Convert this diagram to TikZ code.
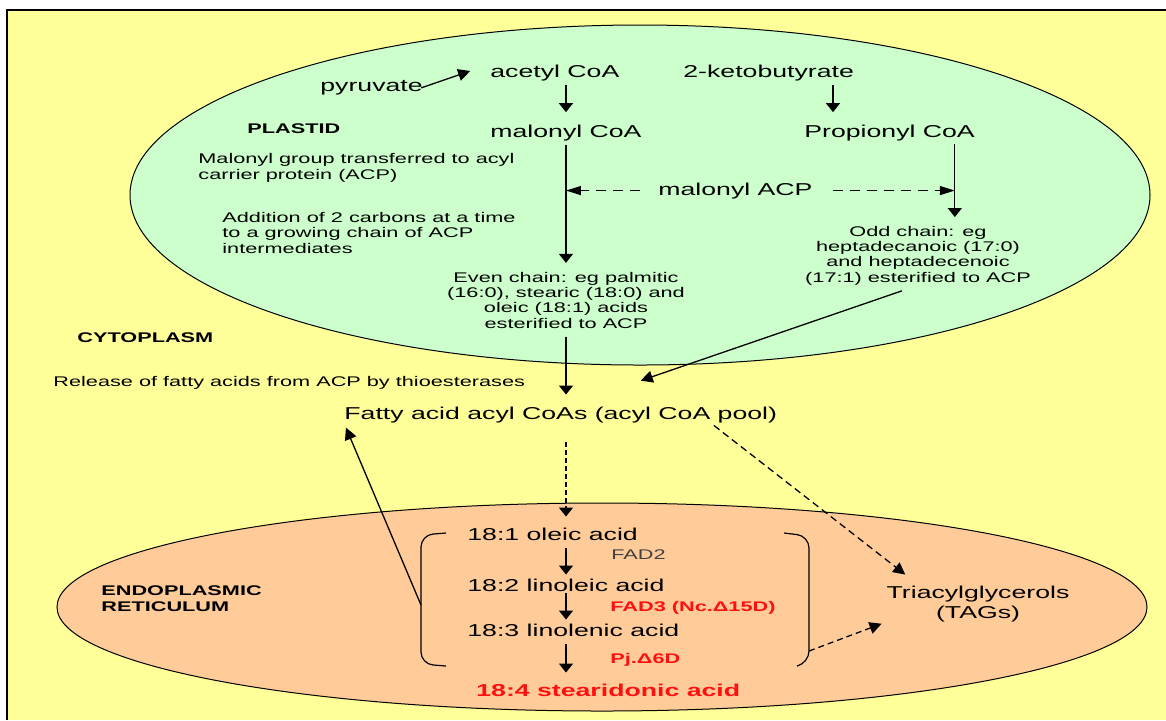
\documentclass[tikz,border=0pt]{standalone}
\usepackage{fontspec}
\setmainfont{Liberation Sans}[FakeStretch=1.55]
\usetikzlibrary{arrows.meta}
\definecolor{cyto}{HTML}{FFFF99}
\definecolor{plastid}{HTML}{CCFFCC}
\definecolor{er}{HTML}{FFCC99}
\definecolor{hot}{HTML}{FF1010}

\begin{document}
\begin{tikzpicture}[x=0.5pt, y=-0.5pt, inner sep=0pt,
  big/.style = {font=\fontsize{8.6}{10}\selectfont},
  note/.style = {font=\fontsize{7}{7.6}\selectfont},
  title/.style = {font=\fontsize{7}{7.6}\selectfont\bfseries},
  hit/.style = {font=\fontsize{8.6}{10}\selectfont\bfseries, text=hot},
  enz/.style = {font=\fontsize{7}{7.6}\selectfont\bfseries, text=hot},
  arr/.style = {-{Triangle[length=4.5pt, width=7pt]}, line width=0.65pt},
  harr/.style = {-{Triangle[length=7.5pt, width=4.5pt]}, line width=0.65pt, dash pattern=on 5pt off 3.5pt},
  darr/.style = {-{Triangle[length=6pt, width=6pt]}, line width=0.65pt}]
\useasboundingbox (0,0) rectangle (1166,720);
\fill[cyto] (7,10) rectangle (1166,720);
\draw[line width=1.2pt] (7,720) -- (7,10) -- (1166,10);
\draw[line width=0.5pt, fill=plastid] (640,195) ellipse [x radius=255pt, y radius=85pt];
\draw[line width=0.5pt, fill=er] (602,607) ellipse [x radius=272.5pt, y radius=52pt];

\node[big, anchor=base west] (pyr) at (320,91) {pyruvate};
\node[big, anchor=base west] (acoa) at (490,77) {acetyl CoA};
\node[big, anchor=base west] (keto) at (683,77) {2-ketobutyrate};
\node[big, anchor=base west] (mcoa) at (490,137) {malonyl CoA};
\node[big, anchor=base west] (pcoa) at (804,137) {Propionyl CoA};
\node[big, anchor=base west] (macp) at (658,195) {malonyl ACP};
\node[title, anchor=base west] (plast) at (247,133) {PLASTID};
\node[note, anchor=base west, align=left] (mgrp) at (198,179) {Malonyl group transferred to acyl\\carrier protein (ACP)};
\node[note, anchor=base west, align=left] (add) at (222,253) {Addition of 2 carbons at a time\\to a growing chain of ACP\\intermediates};
\node[note, anchor=base, align=center] (even) at (566,328) {Even chain: eg palmitic\\(16:0), stearic (18:0) and\\oleic (18:1) acids\\esterified to ACP};
\node[note, anchor=base, align=center] (odd) at (918,282) {Odd chain: eg\\heptadecanoic (17:0)\\and heptadecenoic\\(17:1) esterified to ACP};
\node[title, anchor=base west] (cyt) at (77,342) {CYTOPLASM};
\node[note, anchor=base west] (rel) at (53,386) {Release of fatty acids from ACP by thioesterases};
\node[big, anchor=base west] (fa) at (344,419) {Fatty acid acyl CoAs (acyl CoA pool)};
\node[title, anchor=base west, align=left] (endo) at (101,611) {ENDOPLASMIC\\RETICULUM};
\node[big, anchor=base west] (o1) at (467,540) {18:1 oleic acid};
\node[big, anchor=base west] (o2) at (467,591) {18:2 linoleic acid};
\node[big, anchor=base west] (o3) at (467,636) {18:3 linolenic acid};
\node[hit, anchor=base west] (o4) at (476,696) {18:4 stearidonic acid};
\node[note, anchor=base west, text=black!75] (fad2) at (611,559) {FAD2};
\node[enz, anchor=base west] (fad3) at (610,611) {FAD3 (Nc.Δ15D)};
\node[enz, anchor=base west] (d6) at (610,663) {Pj.Δ6D};
\node[big, anchor=base, align=center] (tag) at (978,618) {Triacylglycerols\\(TAGs)};

\coordinate (axis) at (566,0);
\coordinate (kdrop) at ([xshift=14.5pt]pcoa.north west);
\coordinate (pdrop) at ([xshift=-10.2pt]pcoa.south east);
\coordinate (lb) at (421,605);
\coordinate (rb) at (809,651);

\draw[darr, shorten <=-1pt, shorten >=10.5pt] (pyr.east) -- (acoa.north west);
\draw[arr, shorten <=2pt, shorten >=6pt] (acoa.south -| mcoa.south) -- (mcoa.north);
\draw[arr, shorten <=2pt, shorten >=6pt] (kdrop |- keto.south) -- (kdrop);
\draw[arr, shorten <=2.2pt, shorten >=4.5pt] (mcoa.south) -- (mcoa.south |- even.north);
\draw[arr, shorten <=1.7pt, shorten >=4.4pt] (pdrop) -- (pdrop |- odd.north);
\draw[harr, shorten <=9pt] (macp.west) -- (macp.west -| mcoa.south);
\draw[harr, shorten <=10pt] (macp.east) -- (macp.east -| pdrop);
\draw[arr, shorten <=4pt, shorten >=5.8pt] (even.south) -- (even.south |- fa.north);
\draw[darr, shorten <=8.5pt] (odd.south) -- ([xshift=40pt,yshift=12.75pt]fa.north);

\draw[arr, dash pattern=on 2.5pt off 1.5pt, shorten <=9.7pt, shorten >=5.3pt] (fa.south -| axis) -- (o1.north -| axis);
\draw[darr, dash pattern=on 3.5pt off 2.2pt, shorten <=2pt] ([xshift=75pt]fa.south) -- ([xshift=9.5pt,yshift=5.3pt]tag.north west);
\draw[arr, shorten <=3.5pt, shorten >=1.8pt] (o1.south -| axis) -- (o2.north -| axis);
\draw[arr, shorten <=0.5pt, shorten >=1.8pt] (o2.south -| axis) -- (o3.north -| axis);
\draw[arr, shorten <=3.5pt, shorten >=5.3pt] (o3.south -| axis) -- (o4.north -| axis);

\draw[line width=0.6pt, rounded corners=6pt] (446,533) -- (421,535) -- (421,664) -- (446,666);
\draw[line width=0.6pt, rounded corners=6pt] (784,533) -- (809,536) -- (809,663) -- (797,666);
\draw[darr, shorten >=2.5pt] (lb) -- (fa.south west);
\draw[darr, dash pattern=on 3pt off 2pt, shorten >=2.5pt] (rb) -- (tag.south west);
\end{tikzpicture}
\end{document}
